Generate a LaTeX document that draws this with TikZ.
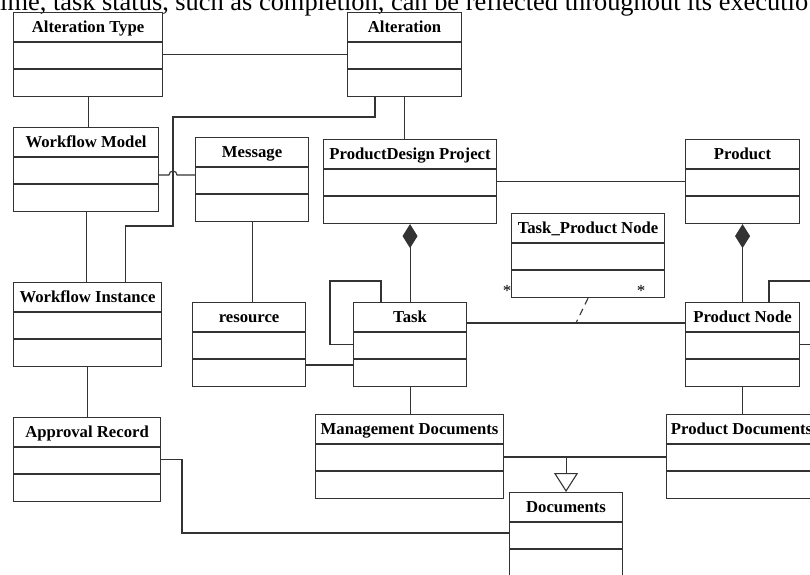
\documentclass[tikz,border=0pt]{standalone}
\usepackage{fontspec}
\setmainfont{Liberation Serif}
\usetikzlibrary{arrows.meta}

\tikzset{
  classbody/.style={draw=black!80,line width=1.1pt,rectangle,inner sep=0pt,minimum height=84pt},
  classtitle/.style={font=\fontsize{16.7}{18}\selectfont\bfseries,inner sep=0pt,anchor=base},
  classline/.style={draw=black!80,line width=1.1pt},
  link/.style={draw=black!80,line width=1.1pt},
  owns/.style={{Diamond[length=24pt,width=15pt]}-},
  isa/.style={-{Triangle[open,length=19pt,width=24pt]}},
  mult/.style={font=\fontsize{17}{17}\selectfont,inner sep=0pt}
}

\newcommand{\classbox}[4]{%
  \node[classbody,minimum width=#3pt,anchor=north west] (#1) at (#2) {};
  \node[classtitle] (#1-title) at ([yshift=-20pt]#1.north) {#4};
  \path[classline] ([yshift=-30pt]#1.north west) -- ([yshift=-30pt]#1.north east);
  \path[classline] ([yshift=-57pt]#1.north west) -- ([yshift=-57pt]#1.north east);
}

\begin{document}
\begin{tikzpicture}[x=1pt,y=-1pt]
  \useasboundingbox (0,0) rectangle (810,574);
  \begin{scope}
    \node[anchor=base west,inner sep=0pt,font=\fontsize{26.4}{28}\selectfont] (sentence) at (0,10)
      {ime, task status, such as completion, can be reflected throughout its executio};

    \classbox{alttype}{13,12}{149}{Alteration Type}
    \classbox{alteration}{347,12}{114}{Alteration}
    \classbox{wfmodel}{13,127}{145}{Workflow Model}
    \classbox{message}{195,137}{113}{Message}
    \classbox{pdproject}{323,139}{173}{ProductDesign Project}
    \classbox{product}{685,139}{114}{Product}
    \classbox{tpnode}{511,213}{153}{Task\_Product Node}
    \classbox{wfinstance}{13,282}{148}{Workflow Instance}
    \classbox{resource}{192,302}{113}{resource}
    \classbox{task}{353,302}{113}{Task}
    \classbox{pnode}{685,302}{114}{Product Node}
    \classbox{mgmtdocs}{315,414}{188}{Management Documents}
    \classbox{proddocs}{666,414}{150}{Product Documents}
    \classbox{approval}{13,417}{147}{Approval Record}
    \classbox{documents}{509,492}{113}{Documents}

    \coordinate (bendA) at (173,117);
    \coordinate (bendB) at (173,226);
    \coordinate (hop) at (173,175);
    \coordinate (taskloop) at (330,281);
    \coordinate (tpfoot) at (576,323);
    \coordinate (pnloop) at (830,281);
    \coordinate (genjoin) at (565,457);
    \coordinate (arbend) at (182,459);

    \path[link] (alttype.east) -- (alteration.west);
    \path[link] (alttype.south) -- (alttype.south |- wfmodel.north);
    \path[link] ([xshift=28pt]alteration.south west) |- (bendA) -- (bendB) -| ([xshift=-37pt]wfinstance.north east);
    \path[link] (alteration.south) -- (alteration.south |- pdproject.north);
    \path[link] (wfmodel.east |- hop) -- ([xshift=-4pt]hop) arc[start angle=180,end angle=0,radius=4pt] -- (message.west |- hop);
    \path[link] (wfmodel.south) -- (wfmodel.south |- wfinstance.north);
    \path[link] (message.south) -- (message.south |- resource.north);
    \path[link] ([yshift=-63pt]resource.north east) -- ([yshift=-63pt]task.north west);
    \path[link] (task.west) -| (taskloop) -| ([xshift=28pt]task.north west);
    \path[link,owns] (pdproject.south) -- (task.north);
    \path[link] (pdproject.east) -- (product.west);
    \path[link,owns] (product.south) -- (pnode.north);
    \path[link] ([yshift=-21pt]task.north east) -- ([yshift=-21pt]pnode.north west);
    \path[link,dash pattern=on 7pt off 5pt] (tpnode.south) -- (tpfoot);
    \node[mult] (starL) at (507,291) {*};
    \node[mult] (starR) at (641,291) {*};
    \path[link] ([xshift=84pt]pnode.north west) |- (pnloop) |- (pnode.east);
    \path[link] (pnode.south) -- (pnode.south |- proddocs.north);
    \path[link] (task.south) -- (task.south |- mgmtdocs.north);
    \path[link] ([yshift=-43pt]mgmtdocs.north east) -- ([yshift=-43pt]proddocs.north west);
    \path[link,isa] (documents.north |- genjoin) -- (documents.north);
    \path[link] (wfinstance.south) -- (wfinstance.south |- approval.north);
    \path[link] (approval.east) -| (arbend) |- ([yshift=-41pt]documents.north west);
  \end{scope}
\end{tikzpicture}
\end{document}
